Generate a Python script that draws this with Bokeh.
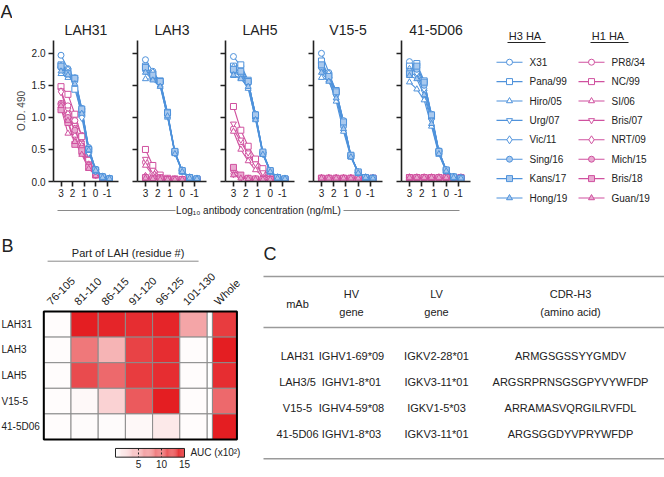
import numpy as np
from bokeh.plotting import figure
from bokeh.layouts import row, column
from bokeh.models import Range1d, FixedTicker, NumeralTickFormatter, ColumnDataSource, LinearColorMapper
from bokeh.core.properties import value
from bokeh.embed import file_html
from bokeh.resources import INLINE

FONT = "Liberation Sans"
BLUE = "#4f92db"
BLUE_T = "#a9c9ee"
MAG = "#d0519f"
MAG_T = "#e9a9d0"
INK = "#222222"

# ---------------- data ----------------
conc_log = [3.0, 2.4, 1.8, 1.2, 0.6, 0.0, -0.6, -1.2]
x_ticks = [3, 2, 1, 0, -1]
y_ticks = [0.0, 0.5, 1.0, 1.5, 2.0]
h3_strains = ["X31", "Pana/99", "Hiro/05", "Urg/07", "Vic/11", "Sing/16", "Kans/17", "Hong/19"]
h1_strains = ["PR8/34", "NC/99", "SI/06", "Bris/07", "NRT/09", "Mich/15", "Bris/18", "Guan/19"]
mabs = ["LAH31", "LAH3", "LAH5", "V15-5", "41-5D06"]

od_LAH31_H3 = [
    [1.97, 1.76, 1.60, 1.12, 0.52, 0.19, 0.08, 0.05],
    [1.82, 1.72, 1.44, 1.05, 0.48, 0.17, 0.07, 0.04],
    [1.68, 1.62, 1.58, 1.10, 0.50, 0.18, 0.07, 0.04],
    [1.75, 1.70, 1.60, 1.08, 0.47, 0.16, 0.06, 0.04],
    [1.80, 1.74, 1.55, 1.00, 0.45, 0.17, 0.07, 0.04],
    [1.78, 1.70, 1.62, 1.14, 0.53, 0.19, 0.08, 0.05],
    [1.80, 1.68, 1.61, 1.13, 0.50, 0.18, 0.07, 0.04],
    [1.72, 1.66, 1.52, 1.06, 0.49, 0.17, 0.06, 0.04],
]
od_LAH31_H1 = [
    [1.22, 1.18, 0.95, 0.72, 0.35, 0.13, 0.05, 0.03],
    [1.48, 1.36, 1.05, 0.70, 0.33, 0.12, 0.05, 0.03],
    [1.15, 0.75, 0.72, 0.45, 0.22, 0.10, 0.04, 0.03],
    [1.42, 1.12, 0.88, 0.60, 0.28, 0.11, 0.05, 0.03],
    [1.40, 1.05, 0.82, 0.55, 0.26, 0.11, 0.05, 0.03],
    [1.20, 1.00, 0.80, 0.52, 0.25, 0.10, 0.04, 0.03],
    [1.12, 0.92, 0.58, 0.48, 0.22, 0.10, 0.04, 0.03],
    [1.18, 0.95, 0.62, 0.42, 0.20, 0.09, 0.04, 0.03],
]
od_LAH3_H3 = [
    [1.90, 1.72, 1.55, 1.06, 0.45, 0.17, 0.06, 0.04],
    [1.80, 1.68, 1.57, 1.08, 0.46, 0.16, 0.06, 0.04],
    [1.60, 1.60, 1.50, 1.00, 0.44, 0.15, 0.05, 0.04],
    [1.72, 1.62, 1.52, 1.02, 0.44, 0.16, 0.06, 0.04],
    [1.76, 1.70, 1.55, 1.05, 0.45, 0.17, 0.06, 0.04],
    [1.74, 1.65, 1.54, 1.04, 0.46, 0.17, 0.06, 0.04],
    [1.78, 1.66, 1.56, 1.07, 0.47, 0.17, 0.06, 0.04],
    [1.70, 1.58, 1.48, 1.02, 0.43, 0.15, 0.05, 0.04],
]
od_LAH3_H1 = [
    [0.30, 0.12, 0.06, 0.04, 0.03, 0.03, 0.03, 0.03],
    [0.50, 0.25, 0.10, 0.05, 0.04, 0.03, 0.03, 0.03],
    [0.25, 0.10, 0.05, 0.04, 0.03, 0.03, 0.03, 0.03],
    [0.35, 0.18, 0.08, 0.04, 0.03, 0.03, 0.03, 0.03],
    [0.08, 0.05, 0.04, 0.03, 0.03, 0.03, 0.03, 0.03],
    [0.07, 0.04, 0.04, 0.03, 0.03, 0.03, 0.03, 0.03],
    [0.06, 0.04, 0.04, 0.03, 0.03, 0.03, 0.03, 0.03],
    [0.05, 0.04, 0.03, 0.03, 0.03, 0.03, 0.03, 0.03],
]
od_LAH5_H3 = [
    [1.95, 1.80, 1.55, 1.05, 0.45, 0.17, 0.06, 0.04],
    [1.80, 1.82, 1.58, 1.02, 0.44, 0.16, 0.06, 0.04],
    [1.65, 1.62, 1.45, 0.98, 0.42, 0.15, 0.05, 0.04],
    [1.70, 1.65, 1.50, 1.00, 0.43, 0.16, 0.06, 0.04],
    [1.78, 1.70, 1.52, 1.03, 0.44, 0.16, 0.06, 0.04],
    [1.72, 1.68, 1.55, 1.05, 0.45, 0.17, 0.06, 0.04],
    [1.75, 1.72, 1.56, 1.04, 0.46, 0.17, 0.06, 0.04],
    [1.66, 1.60, 1.48, 0.96, 0.42, 0.15, 0.05, 0.04],
]
od_LAH5_H1 = [
    [0.82, 0.62, 0.42, 0.25, 0.12, 0.06, 0.04, 0.03],
    [1.17, 0.80, 0.55, 0.35, 0.20, 0.08, 0.05, 0.03],
    [0.78, 0.50, 0.32, 0.18, 0.08, 0.05, 0.04, 0.03],
    [0.90, 0.65, 0.45, 0.28, 0.14, 0.06, 0.04, 0.03],
    [0.12, 0.06, 0.04, 0.03, 0.03, 0.03, 0.03, 0.03],
    [0.18, 0.08, 0.05, 0.04, 0.03, 0.03, 0.03, 0.03],
    [0.22, 0.10, 0.05, 0.04, 0.03, 0.03, 0.03, 0.03],
    [0.10, 0.05, 0.04, 0.03, 0.03, 0.03, 0.03, 0.03],
]
od_V155_H3 = [
    [2.00, 1.70, 1.40, 0.95, 0.40, 0.14, 0.06, 0.05],
    [1.88, 1.65, 1.42, 0.92, 0.40, 0.14, 0.06, 0.05],
    [1.62, 1.58, 1.25, 0.78, 0.38, 0.13, 0.06, 0.05],
    [1.75, 1.60, 1.35, 0.88, 0.39, 0.14, 0.06, 0.05],
    [1.80, 1.68, 1.38, 0.90, 0.40, 0.14, 0.06, 0.05],
    [1.78, 1.62, 1.36, 0.86, 0.40, 0.14, 0.06, 0.05],
    [1.82, 1.64, 1.40, 0.93, 0.41, 0.15, 0.06, 0.05],
    [1.70, 1.56, 1.30, 0.82, 0.38, 0.13, 0.06, 0.05],
]
od_V155_H1 = [
    [0.05, 0.05, 0.05, 0.05, 0.05, 0.05, 0.05, 0.05],
    [0.05, 0.05, 0.05, 0.05, 0.05, 0.05, 0.05, 0.05],
    [0.05, 0.05, 0.05, 0.05, 0.05, 0.05, 0.05, 0.05],
    [0.05, 0.05, 0.05, 0.05, 0.05, 0.05, 0.05, 0.05],
    [0.05, 0.05, 0.05, 0.05, 0.05, 0.05, 0.05, 0.05],
    [0.05, 0.05, 0.05, 0.05, 0.05, 0.05, 0.05, 0.05],
    [0.05, 0.05, 0.05, 0.05, 0.05, 0.05, 0.05, 0.05],
    [0.05, 0.05, 0.05, 0.05, 0.05, 0.05, 0.05, 0.05],
]
od_4105_H3 = [
    [1.87, 1.78, 1.55, 1.05, 0.48, 0.18, 0.07, 0.05],
    [1.80, 1.84, 1.57, 1.02, 0.46, 0.17, 0.07, 0.05],
    [1.55, 1.44, 1.27, 0.86, 0.42, 0.16, 0.06, 0.05],
    [1.70, 1.65, 1.40, 0.95, 0.45, 0.17, 0.07, 0.05],
    [1.75, 1.70, 1.45, 1.00, 0.46, 0.17, 0.07, 0.05],
    [1.72, 1.75, 1.50, 1.02, 0.47, 0.18, 0.07, 0.05],
    [1.68, 1.80, 1.55, 1.04, 0.47, 0.18, 0.07, 0.05],
    [1.65, 1.60, 1.35, 0.90, 0.43, 0.16, 0.06, 0.05],
]
od_4105_H1 = [
    [0.06, 0.06, 0.06, 0.06, 0.06, 0.06, 0.06, 0.06],
    [0.06, 0.06, 0.06, 0.06, 0.06, 0.06, 0.06, 0.06],
    [0.06, 0.06, 0.06, 0.06, 0.06, 0.06, 0.06, 0.06],
    [0.06, 0.06, 0.06, 0.06, 0.06, 0.06, 0.06, 0.06],
    [0.06, 0.06, 0.06, 0.06, 0.06, 0.06, 0.06, 0.06],
    [0.06, 0.06, 0.06, 0.06, 0.06, 0.06, 0.06, 0.06],
    [0.06, 0.06, 0.06, 0.06, 0.06, 0.06, 0.06, 0.06],
    [0.06, 0.06, 0.06, 0.06, 0.06, 0.06, 0.06, 0.06],
]

lah_parts = ["76-105", "81-110", "86-115", "91-120", "96-125", "101-130", "Whole"]
auc = [
    [0.2, 15.0, 14.5, 14.0, 14.5, 6.0, 13.0],
    [0.2, 9.0, 5.0, 12.5, 14.0, 0.2, 15.0],
    [0.2, 12.0, 10.0, 13.0, 14.0, 0.2, 14.0],
    [0.2, 0.5, 3.0, 11.0, 15.0, 0.2, 10.0],
    [0.2, 0.3, 0.3, 0.5, 1.5, 0.2, 15.0],
]
auc_ticks = [5, 10, 15]

tbl_mab = ["LAH31", "LAH3/5", "V15-5", "41-5D06"]
tbl_hv = ["IGHV1-69*09", "IGHV1-8*01", "IGHV4-59*08", "IGHV1-8*03"]
tbl_lv = ["IGKV2-28*01", "IGKV3-11*01", "IGKV1-5*03", "IGKV3-11*01"]
tbl_cdr = ["ARMGSGSSYYGMDV", "ARGSRPRNSGSGPYVYWFDP", "ARRAMASVQRGILRVFDL", "ARGSGGDYVPRYWFDP"]

# ---------------- styles ----------------
MARKERS = ["circle", "square", "triangle", "inverted_triangle", "diamond", "circle", "square", "triangle"]
MSIZE = [6, 6, 6, 6, 8, 6, 6, 6]


def txt(p, x, y, t, size, align="center", baseline="middle", angle=0, color=INK):
    p.text(x=x, y=y, text=t, text_font=value(FONT), text_font_size=value(size),
           text_align=align, text_baseline=baseline, angle=angle, text_color=color)


def blank(w, h, xr, yr):
    p = figure(width=w, height=h, x_range=xr, y_range=yr, toolbar_location=None,
               output_backend="svg", x_axis_location=None, y_axis_location=None, min_border=0)
    p.outline_line_color = None
    p.xgrid.visible = False
    p.ygrid.visible = False
    return p


def series(p, rows_, col, tint):
    for ys in rows_:
        p.line(conc_log, ys, line_color=col, line_width=1.1)
    for k, ys in enumerate(rows_):
        p.scatter(conc_log, ys, marker=MARKERS[k], size=MSIZE[k], line_color=col, line_width=1,
                  fill_color=tint if k >= 5 else "white")


def od_panel(title, h3_rows, h1_rows, first):
    p = figure(width=116 if first else 88, height=202,
               x_range=Range1d(3.65, -1.98), y_range=Range1d(0, 2.2),
               min_border_left=37 if first else 9, min_border_right=10,
               min_border_top=40, min_border_bottom=21,
               toolbar_location=None, output_backend="svg", title=title)
    p.outline_line_color = None
    p.xgrid.visible = False
    p.ygrid.visible = False
    p.title.align = "center"
    p.title.text_font = FONT
    p.title.text_font_size = "14px"
    p.title.text_font_style = "normal"
    p.title.text_color = INK
    p.title.standoff = 5
    for ax in (p.xaxis[0], p.yaxis[0]):
        ax.axis_line_width = 1.6
        ax.axis_line_color = INK
        ax.major_tick_line_width = 1.6
        ax.major_tick_line_color = INK
        ax.major_tick_in = 0
        ax.major_tick_out = 5
        ax.minor_tick_line_color = None
        ax.major_label_text_font = FONT
        ax.major_label_text_font_size = "10px"
        ax.major_label_text_color = INK
    xa = p.xaxis[0]
    xa.ticker = FixedTicker(ticks=x_ticks)
    xa.major_label_overrides = {t: str(t) for t in x_ticks}
    xa.major_label_standoff = 2
    ya = p.yaxis[0]
    ya.ticker = FixedTicker(ticks=y_ticks)
    if first:
        ya.formatter = NumeralTickFormatter(format="0.0")
        ya.major_label_standoff = 3
        ya.axis_label = "O.D. 490"
        ya.axis_label_text_font = FONT
        ya.axis_label_text_font_size = "10px"
        ya.axis_label_text_font_style = "normal"
        ya.axis_label_standoff = 2
    else:
        ya.major_label_overrides = {t: "" for t in y_ticks}
        ya.major_label_standoff = 0
    series(p, h1_rows, MAG, MAG_T)
    series(p, h3_rows, BLUE, BLUE_T)
    return p


panels = [
    od_panel(mabs[0], od_LAH31_H3, od_LAH31_H1, True),
    od_panel(mabs[1], od_LAH3_H3, od_LAH3_H1, False),
    od_panel(mabs[2], od_LAH5_H3, od_LAH5_H1, False),
    od_panel(mabs[3], od_V155_H3, od_V155_H1, False),
    od_panel(mabs[4], od_4105_H3, od_4105_H1, False),
]

# x-axis label strip (local x = page x - 12)
strip = blank(468, 26, Range1d(0, 468), Range1d(26, 0))
strip.segment(x0=[45, 331], y0=[8, 8], x1=[163, 447], y1=[8, 8], line_color="#8a8a8a", line_width=1)
txt(strip, [246], [8], ["Log\u2081\u2080 antibody concentration (ng/mL)"], "10px")

# panel letter A
figA = blank(12, 228, Range1d(0, 12), Range1d(228, 0))
txt(figA, [0], [11], ["A"], "18px", align="left")

# legend
leg = blank(184, 228, Range1d(0, 184), Range1d(228, 0))
txt(leg, [46, 129], [35, 35], ["H3  HA", "H1  HA"], "11px")
leg.segment(x0=[27, 110], y0=[42, 42], x1=[65, 148], y1=[42, 42], line_color=INK, line_width=1)
for names, x0, col, tint in ((h3_strains, 16, BLUE, BLUE_T), (h1_strains, 98, MAG, MAG_T)):
    for k, nm in enumerate(names):
        yy = 61.7 + 19.4 * k
        leg.segment(x0=[x0], y0=[yy], x1=[x0 + 26], y1=[yy], line_color=col, line_width=1.1)
        leg.scatter([x0 + 13], [yy], marker=MARKERS[k], size=MSIZE[k], line_color=col, line_width=1,
                    fill_color=tint if k >= 5 else "white")
        txt(leg, [x0 + 33], [yy], [nm], "10px", align="left")

# ---------------- panel B: heat map ----------------
CW, RH = 27.2, 25.6
HX0, HY0 = 43.3, 83.0
pB = blank(262, 249, Range1d(-HX0 / CW, (262 - HX0) / CW), Range1d(-(249 - HY0) / RH, HY0 / RH))
red = (228, 30, 34)
palette = ["#%02x%02x%02x" % tuple(int(round(255 + (c - 255) * t)) for c in red) for t in np.linspace(0, 1, 256)]
mapper = LinearColorMapper(palette=palette, low=0, high=15)
ncol = len(lah_parts)
lefts = [float(i) for i in range(ncol - 1)] + [ncol - 1 + 0.2]
widths = [1.0] * (ncol - 1) + [0.9]
cx, cy, cw, cv = [], [], [], []
for r, vals in enumerate(auc):
    for i, v in enumerate(vals):
        cx.append(lefts[i] + widths[i] / 2)
        cy.append(-(r + 0.5))
        cw.append(widths[i])
        cv.append(v)
src = ColumnDataSource(dict(x=cx, y=cy, w=cw, auc=cv))
nrow = len(auc)
gap_x = ncol - 1 + 0.1
pB.rect(x=[gap_x] * nrow, y=[-(r + 0.5) for r in range(nrow)], width=0.2, height=1,
        fill_color="white", line_color="#8c8c8c", line_width=1)
pB.rect(x="x", y="y", width="w", height=1, source=src,
        fill_color={"field": "auc", "transform": mapper}, line_color="#8c8c8c", line_width=1)
right_edge = lefts[-1] + widths[-1]
pB.rect(x=[right_edge / 2], y=[-nrow / 2], width=right_edge, height=nrow,
        fill_color=None, line_color="black", line_width=2)
txt(pB, [-HX0 / CW + 1 / CW] * nrow, [-(r + 0.5) for r in range(nrow)], mabs, "10px", align="left")
txt(pB, [lefts[i] + widths[i] / 2 - 0.32 for i in range(ncol)], [0.33] * ncol, lah_parts, "11px",
    align="left", angle=np.pi / 4)
txt(pB, [3.1], [2.27], ["Part of LAH (residue #)"], "11px")
pB.segment(x0=[0.14], y0=[1.965], x1=[5.69], y1=[1.965], line_color="#8a8a8a", line_width=1)
txt(pB, [-HX0 / CW + 1 / CW], [2.54], ["B"], "18px", align="left")
# color bar
cb0, cbs = 2.636, 0.1691
vs = np.linspace(0, 15, 76)
vm = (vs[:-1] + vs[1:]) / 2
pB.rect(x=cb0 + cbs * vm, y=[-5.52] * len(vm), width=cbs * (vs[1] - vs[0]) * 1.05, height=0.34,
        fill_color={"field": "x", "transform": LinearColorMapper(palette=palette, low=cb0, high=cb0 + cbs * 15)},
        line_color=None)
pB.rect(x=[cb0 + cbs * 7.5], y=[-5.52], width=cbs * 15, height=0.34, fill_color=None, line_color=INK, line_width=1)
pB.segment(x0=[cb0 + cbs * t for t in auc_ticks[:2]], y0=[-5.35] * 2, x1=[cb0 + cbs * t for t in auc_ticks[:2]],
           y1=[-5.69] * 2, line_color=INK, line_width=1, line_dash="2 2")
txt(pB, [cb0 + cbs * t for t in auc_ticks], [-5.95] * 3, [str(t) for t in auc_ticks], "10px")
txt(pB, [5.39], [-5.51], ["AUC (x10\u00b2)"], "10px", align="left")

# ---------------- panel C: table ----------------
pC = blank(402, 249, Range1d(0, 402), Range1d(249, 0))
txt(pC, [1], [25], ["C"], "18px", align="left")
pC.segment(x0=[1, 1, 1], y0=[48, 99, 230.3], x1=[402, 402, 402], y1=[48, 99, 230.3],
           line_color="#9a9a9a", line_width=1.5)
colx = [35, 89, 174, 308]
txt(pC, [colx[0]], [75], ["mAb"], "11px")
txt(pC, colx[1:], [65] * 3, ["HV", "LV", "CDR-H3"], "11px")
txt(pC, colx[1:], [83] * 3, ["gene", "gene", "(amino acid)"], "11px")
rows_y = [127 + 26 * r for r in range(len(tbl_mab))]
for cxx, colvals in zip(colx, (tbl_mab, tbl_hv, tbl_lv, tbl_cdr)):
    txt(pC, [cxx] * len(colvals), rows_y, colvals, "11px")

top = row(figA, column(row(*panels), strip), leg)
bottom = row(pB, pC)
layout = column(top, bottom)
open("out.html", "w").write(file_html(layout, INLINE))
